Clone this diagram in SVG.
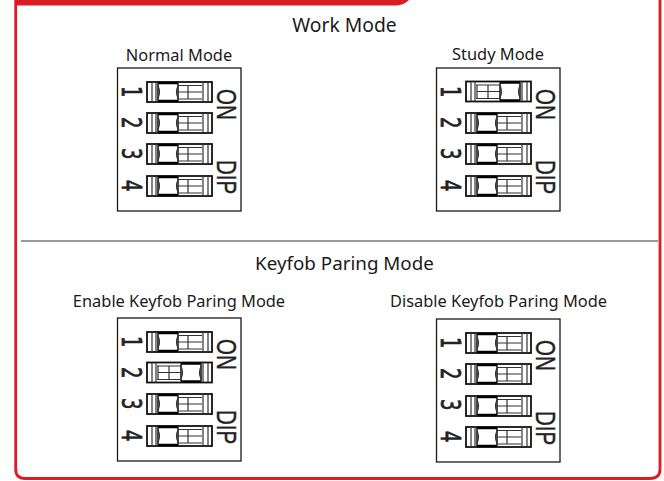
<svg xmlns="http://www.w3.org/2000/svg" width="664" height="481" viewBox="0 0 664 481">
<style>
.t{font-family:"Noto Sans","Open Sans",sans-serif;fill:#1a1a1a;text-anchor:middle}
.h{font-size:19.300px}
.k{font-size:18.800px}
.s{font-size:16.400px}
.d{font-family:"DejaVu Sans",sans-serif;font-size:18px;fill:#222;stroke:#222;stroke-width:.5}
.l{font-family:"Liberation Sans",sans-serif;font-size:20.500px;fill:#222;stroke:#222;stroke-width:.3}
.o{fill:none;stroke:#1a1a1a;stroke-width:1.300}
.b{fill:none;stroke:#111;stroke-width:1.800}
.th{fill:none;stroke:#000;stroke-width:2.600}
.m{fill:none;stroke:#333;stroke-width:1.200}
.v{fill:none;stroke:#111;stroke-width:1.500}
</style>
<defs>
<g id="sw-off">
<rect class="b" x="0" y="0" width="65" height="20"/>
<path class="m" d="M5 0V20M9 0V20M56 0V20M61 0V20"/>
<path class="th" d="M11 1H31M11 19H31"/>
<path class="v" d="M11 1V19M31 1V19"/>
<path class="m" d="M11 4Q14 10 11 16M31 4Q28 10 31 16"/>
<path class="m" d="M31 3.500H55M31 17H55M41 3.500V17M31 10H55"/>
</g>
<g id="sw-on">
<rect class="b" x="0" y="0" width="65" height="20"/>
<path class="m" d="M5 0V20M9 0V20M56 0V20M61 0V20"/>
<path class="th" d="M34 1H54M34 19H54"/>
<path class="v" d="M34 1V19M54 1V19"/>
<path class="m" d="M34 4Q37 10 34 16M54 4Q51 10 54 16"/>
<path class="m" d="M10 3.500H34M10 17H34M11 3.500V17M22 3.500V17M11 10H34"/>
</g>
<g id="legend">
<text class="d" transform="translate(122,86) rotate(90) scale(1,1.5)">1</text>
<text class="d" transform="translate(122,117) rotate(90) scale(1,1.5)">2</text>
<text class="d" transform="translate(122,148) rotate(90) scale(1,1.5)">3</text>
<text class="d" transform="translate(122,180) rotate(90) scale(1,1.5)">4</text>
<text class="l" transform="translate(217,89) rotate(90) scale(1,1.36)">ON</text>
<text class="l" transform="translate(217,160) rotate(90) scale(1,1.36)">DIP</text>
<rect class="o" x="117.500" y="68" width="123.500" height="143"/>
</g>
</defs>
<g id="frame">
<path d="M15.700 0V469Q15.700 478.500 25 478.500H650Q660 478.500 660 469V0" fill="none" stroke="#dc1c24" stroke-width="2.800"/>
<path d="M15 0H409Q404 5 396 5.500H15Z" fill="#dc1c24"/>
</g>
<path id="divider" d="M21 241H658" stroke="#999" stroke-width="2"/>
<text class="t h" x="344.500" y="32">Work Mode</text>
<text class="t k" x="344.500" y="269.500">Keyfob Paring Mode</text>
<g id="normal-mode">
<text class="t s" x="179" y="61">Normal Mode</text>
<use href="#legend"/>
<use href="#sw-off" x="147" y="82"/><use href="#sw-off" x="147" y="113"/><use href="#sw-off" x="147" y="144"/><use href="#sw-off" x="147" y="176"/>
</g>
<g id="study-mode">
<text class="t s" x="498" y="60">Study Mode</text>
<use href="#legend" x="319"/>
<use href="#sw-on" x="466" y="81.500"/><use href="#sw-off" x="466" y="113"/><use href="#sw-off" x="466" y="144"/><use href="#sw-off" x="466" y="176"/>
</g>
<g id="enable-keyfob">
<text class="t s" x="179" y="307">Enable Keyfob Paring Mode</text>
<use href="#legend" y="250"/>
<use href="#sw-off" x="147" y="332"/><use href="#sw-on" x="147" y="362.500"/><use href="#sw-off" x="147" y="394"/><use href="#sw-off" x="147" y="426"/>
</g>
<g id="disable-keyfob">
<text class="t s" x="498.500" y="307">Disable Keyfob Paring Mode</text>
<use href="#legend" x="319" y="251"/>
<use href="#sw-off" x="466" y="333"/><use href="#sw-off" x="466" y="364"/><use href="#sw-off" x="466" y="396"/><use href="#sw-off" x="466" y="427"/>
</g>
</svg>
